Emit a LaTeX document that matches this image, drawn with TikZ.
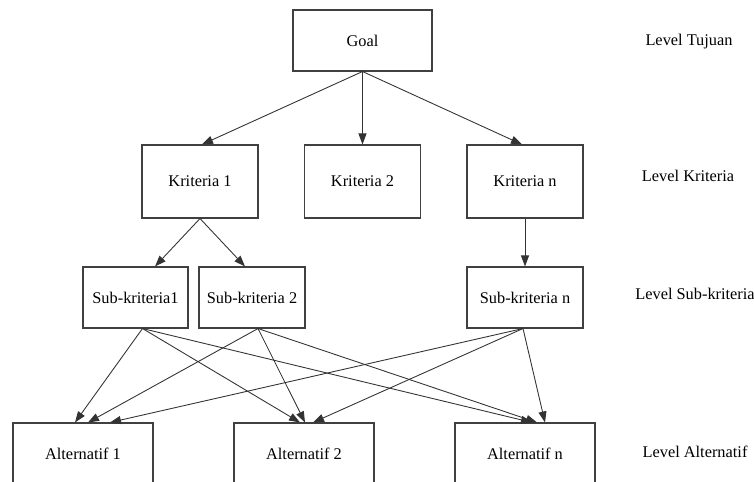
\documentclass[tikz,border=0pt]{standalone}
\usepackage{fontspec}
\setmainfont{Liberation Serif}
\usetikzlibrary{arrows.meta,calc}
\colorlet{boxline}{black!75}
\colorlet{edgeline}{black!80}

\begin{document}
\begin{tikzpicture}[
    box/.style={draw=boxline, line width=0.6pt, minimum height=1.22cm, inner sep=0pt, font=\fontsize{9.3}{11}\selectfont},
    link/.style={draw=edgeline, line width=0.5pt, -{Triangle[length=2.2mm,width=1.6mm]}},
    lvl/.style={font=\fontsize{9.3}{11}\selectfont}]
        \useasboundingbox (0,0) rectangle (15.08,-9.62);
        % boxes
        \node[box, minimum width=2.78cm] (goal) at (7.25,-0.81) {Goal};
        \foreach \name/\x/\txt in {k1/4.0/Kriteria 1, k2/7.25/Kriteria 2, kn/10.5/Kriteria n}{
            \node[box, minimum width=2.32cm, minimum height=1.46cm] (\name) at (\x,-3.63) {\txt};
        }
        \node[box, minimum width=2.1cm] (s1) at (2.71,-5.95) {Sub-kriteria1};
        \node[box, minimum width=2.12cm] (s2) at (5.04,-5.95) {Sub-kriteria 2};
        \node[box, minimum width=2.32cm] (sn) at (10.5,-5.95) {Sub-kriteria n};
        \foreach \name/\x/\txt in {a1/1.66/Alternatif 1, a2/6.08/Alternatif 2, an/10.5/Alternatif n}{
            \node[box, minimum width=2.8cm] (\name) at (\x,-9.07) {\txt};
        }
        % levels
        \node[lvl] (lt) at (13.78,-0.84) {Level Tujuan};
        \node[lvl] (lk) at (13.76,-3.52) {Level Kriteria};
        \node[lvl] (ls) at (13.9,-5.88) {Level Sub-kriteria};
        \node[lvl] (la) at (13.9,-9.04) {Level Alternatif};
        % links
        \draw[link] (goal.south) -- ($(k1.north)+(0.04,0)$);
        \draw[link] (goal.south) -- (k2.north);
        \draw[link] (goal.south) -- ($(kn.north)+(-0.06,0)$);
        \draw[link] (k1.south) -- ($(s1.north)+(0.39,0)$);
        \draw[link] (k1.south) -- ($(s2.north)+(-0.14,0)$);
        \draw[link] (kn.south) -- (sn.north);
        \foreach \src/\dx/\a/\b/\c in {s1/0.14/-0.16/-0.08/0.14, s2/0.12/0.1/0.02/0.24, sn/-0.04/0.54/0.18/0.4}{
            \draw[link] ($(\src.south)+(\dx,0)$) -- ($(a1.north)+(\a,0)$);
            \draw[link] ($(\src.south)+(\dx,0)$) -- ($(a2.north)+(\b,0)$);
            \draw[link] ($(\src.south)+(\dx,0)$) -- ($(an.north)+(\c,0)$);
        }
\end{tikzpicture}
\end{document}
